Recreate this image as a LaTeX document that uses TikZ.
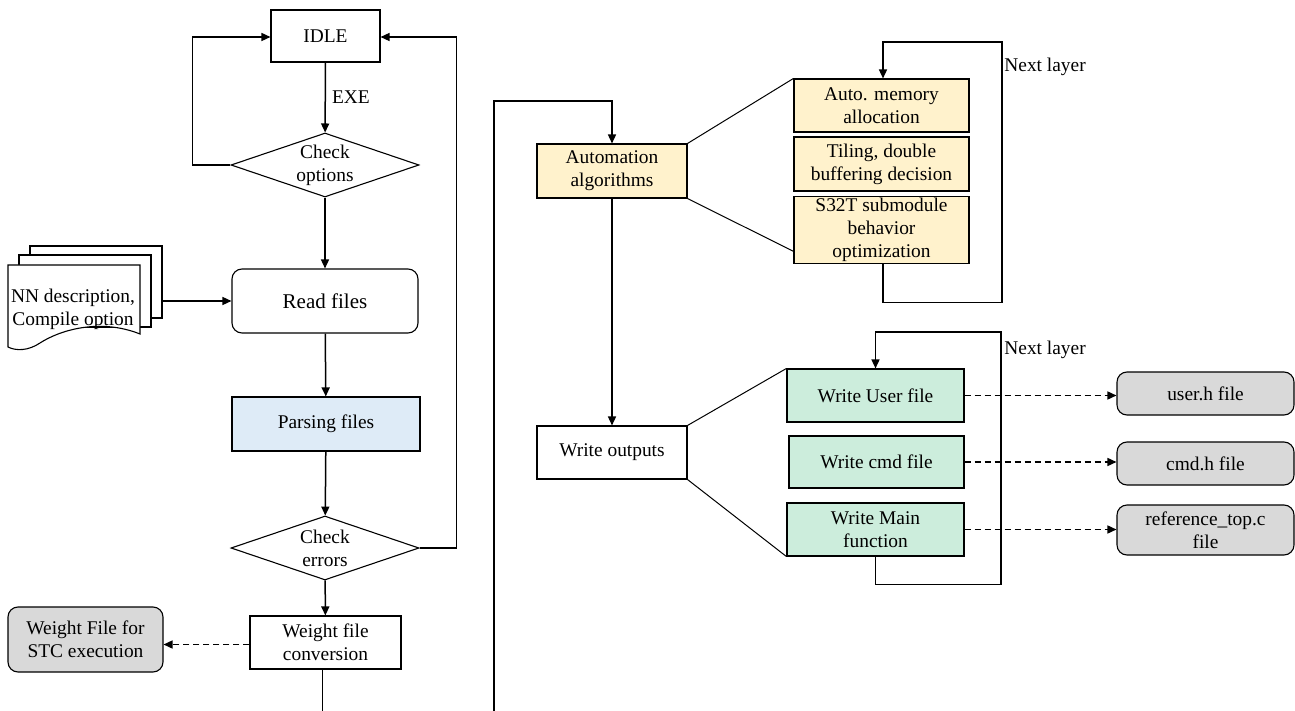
\documentclass[tikz,border=0pt]{standalone}
\usepackage{fontspec}
\setmainfont{Liberation Serif}
\usetikzlibrary{arrows.meta,shapes.geometric}
\definecolor{tileyellow}{RGB}{255,242,204}
\definecolor{tilegreen}{RGB}{204,237,220}
\definecolor{tileblue}{RGB}{222,235,247}
\definecolor{tilegray}{RGB}{217,217,217}
\begin{document}
\begin{tikzpicture}[x=0.5pt,y=-0.5pt,
	every node/.style={font=\fontsize{9.7}{11.5}\selectfont,align=center,inner sep=1pt},
	procbox/.style={draw,line width=0.55pt,minimum width=#1},
	procbox/.default=75pt,
	roundbox/.style={draw,line width=0.55pt,rounded corners=5pt,minimum width=#1},
	decision/.style={draw,line width=0.55pt,diamond,inner sep=0pt,minimum width=94pt,minimum height=32pt},
	flow/.style={line width=0.75pt,-{Triangle[length=4.5pt,width=4pt]}},
	plain/.style={line width=0.75pt},
	fan/.style={line width=0.5pt},
	outflow/.style={line width=0.75pt,dash pattern=on 3pt off 2pt,-{Triangle[length=4.5pt,width=4pt]}}]
	\useasboundingbox (0,0) rectangle (1295,711);
	\node[procbox=54.5pt,minimum height=26pt] (idle) at (325.5,36) {IDLE};
	\node[decision,label={[align=center]center:Check\\options}] (chkopt) at (325,165) {};
	\node[roundbox=93pt,minimum height=32pt,font=\fontsize{10.5}{12}\selectfont] (read) at (325,301) {Read files};
	\node[procbox=94pt,minimum height=27pt,fill=tileblue] (parse) at (326,424) {Parsing files};
	\node[decision,label={[align=center]center:Check\\errors}] (chkerr) at (325,548) {};
	\node[procbox=75.5pt,minimum height=26.5pt] (wconv) at (325.5,642.5) {Weight file\\conversion};
	\node[roundbox=77.5pt,minimum height=32.5pt,fill=tilegray] (wfile) at (85.5,639.5) {Weight File for\\STC execution};
	\draw[line width=0.55pt,fill=white] (30,246) rectangle (162,318);
	\draw[line width=0.55pt,fill=white] (19,255) rectangle (151,327);
	\draw[line width=0.55pt,fill=white] (8,265) -- (140,265) -- (140,334)
		.. controls (100,318) and (60,330) .. (40,343)
		.. controls (28,351) and (16,351) .. (8,347) -- cycle;
	\node (nndoc) at (73,309) {NN description,\\Compile option};
	\coordinate (docout) at (162,301);
	\draw[flow] (idle) -- node[right,xshift=2pt] {EXE} (chkopt);
	\draw[flow] (chkopt) -- (read);
	\draw[flow] (docout) -- (read.west);
	\draw[flow] (read) -- (parse);
	\draw[flow] (parse) -- (chkerr);
	\draw[flow] (chkerr) -- (wconv);
	\draw[flow] (chkopt.west) -- ++(-38,0) |- ([yshift=-0.5pt]idle.west);
	\draw[flow] (chkerr.east) -- ++(37,0) |- ([yshift=-0.5pt]idle.east);
	\draw[outflow] ([yshift=-1pt]wconv.west) -- ([yshift=-1pt]wconv.west -| wfile.east);
	\coordinate (wconvend) at (322.5,711);
	\draw[plain] ([xshift=-1.5pt]wconv.south) -- (wconvend);
	\node[procbox=75pt,minimum height=27pt,fill=tileyellow] (auto) at (612,171) {Automation\\algorithms};
	\node[procbox=87.5pt,minimum height=26.5pt,fill=tileyellow] (automem) at (881.5,105.5) {Auto. memory\\allocation};
	\node[procbox=87.5pt,minimum height=27pt,fill=tileyellow] (tiling) at (881.5,164) {Tiling, double\\buffering decision};
	\node[procbox=87.5pt,minimum height=33pt,fill=tileyellow] (s32t) at (881.5,230) {S32T submodule\\behavior\\optimization};
	\node[procbox=75pt,minimum height=26.5pt] (wout) at (612,452.5) {Write outputs};
	\node[procbox=88.5pt,minimum height=26.5pt,fill=tilegreen] (wuser) at (875.5,395.5) {Write User file};
	\node[procbox=87.5pt,minimum height=26pt,fill=tilegreen] (wcmd) at (876.5,462) {Write cmd file};
	\node[procbox=88.5pt,minimum height=26.5pt,fill=tilegreen] (wmain) at (875.5,529.5) {Write Main\\function};
	\node[roundbox=88.5pt,minimum height=21.5pt,fill=tilegray] (userh) at (1205.5,393.5) {user.h file};
	\node[roundbox=88.5pt,minimum height=21.5pt,fill=tilegray] (cmdh) at (1205.5,463.5) {cmd.h file};
	\node[roundbox=88.5pt,minimum height=25pt,fill=tilegray] (reftop) at (1205.5,530) {reference\_top.c\\file};
	\coordinate (backend) at (494,711);
	\coordinate (backtop) at (494,101);
	\draw[flow] (backend) -- (backtop) -| (auto.north);
	\draw[flow] (auto) -- (wout);
	\draw[fan] (auto.north east) -- (automem.north west);
	\draw[fan] (auto.south east) -- ([yshift=6.5pt]s32t.south west);
	\draw[fan] (wout.north east) -- (wuser.north west);
	\draw[fan] (wout.south east) -- (wmain.south west);
	\draw[flow] ([xshift=0.75pt]s32t.south) -- ++(0,38) -| (1002,42) -| ([xshift=0.75pt]automem.north);
	\node[anchor=west] (nextA) at (1002,67) {Next layer};
	\draw[flow] (wmain.south) -- ++(0,28) -| (1001,332) -| (wuser.north);
	\node[anchor=west] (nextB) at (1002,350) {Next layer};
	\draw[outflow] (wuser.east) -- (wuser.east -| userh.west);
	\draw[outflow] (wcmd.east) -- (wcmd.east -| cmdh.west);
	\draw[outflow] (wmain.east) -- (wmain.east -| reftop.west);
\end{tikzpicture}
\end{document}
